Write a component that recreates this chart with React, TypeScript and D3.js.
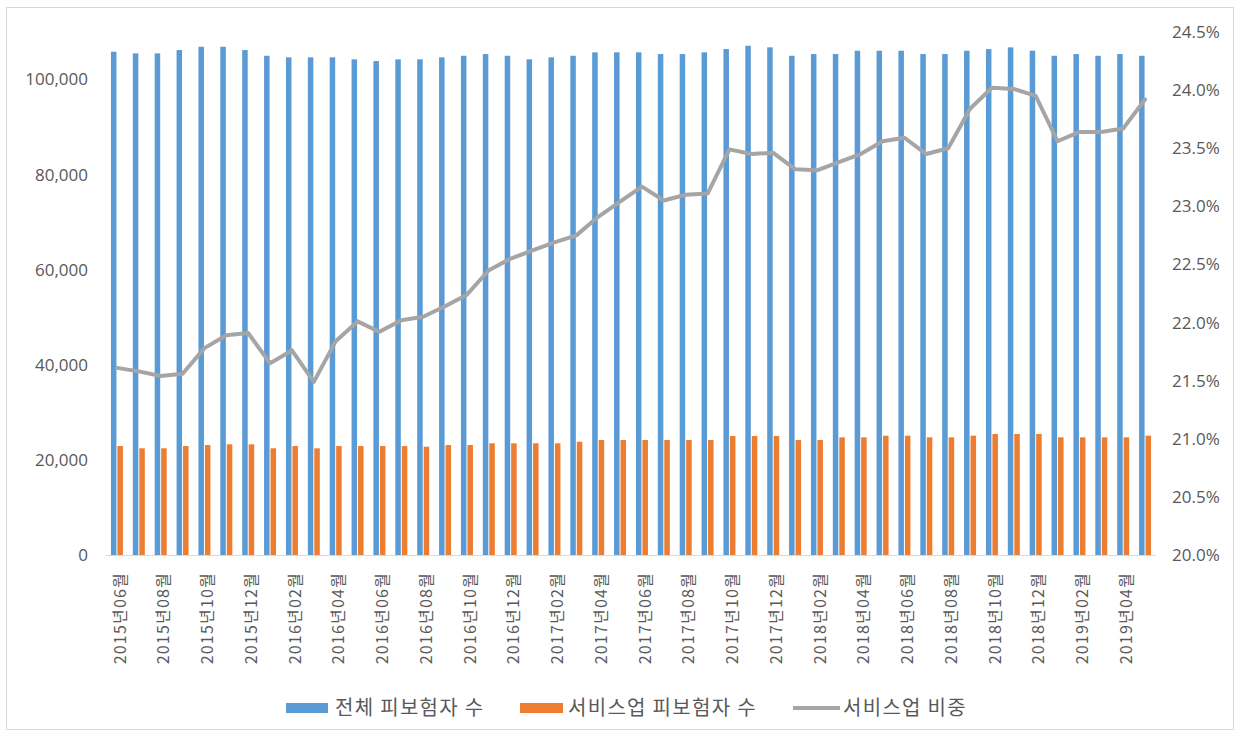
import { useEffect } from "react";
import * as d3 from "d3";

const months = [
  "2015년06월", "2015년07월", "2015년08월", "2015년09월", "2015년10월", "2015년11월", "2015년12월",
  "2016년01월", "2016년02월", "2016년03월", "2016년04월", "2016년05월", "2016년06월", "2016년07월",
  "2016년08월", "2016년09월", "2016년10월", "2016년11월", "2016년12월",
  "2017년01월", "2017년02월", "2017년03월", "2017년04월", "2017년05월", "2017년06월", "2017년07월",
  "2017년08월", "2017년09월", "2017년10월", "2017년11월", "2017년12월",
  "2018년01월", "2018년02월", "2018년03월", "2018년04월", "2018년05월", "2018년06월", "2018년07월",
  "2018년08월", "2018년09월", "2018년10월", "2018년11월", "2018년12월",
  "2019년01월", "2019년02월", "2019년03월", "2019년04월", "2019년05월",
];

// 전체 피보험자 수
const totalInsured = [
  105850, 105500, 105500, 106200, 106900, 106900, 106200, 105000, 104670, 104670,
  104670, 104250, 103890, 104250, 104250, 104670, 105000, 105360, 105000, 104250,
  104670, 105000, 105720, 105720, 105720, 105360, 105360, 105720, 106410, 107100,
  106770, 105000, 105360, 105360, 106060, 106060, 106060, 105360, 105360, 106060,
  106410, 106770, 106060, 105000, 105360, 105000, 105360, 105000,
];

// 서비스업 피보험자 수
const serviceInsured = [
  22920, 22440, 22440, 22920, 23130, 23280, 23280, 22440, 22920, 22440,
  22920, 22920, 22920, 22920, 22780, 23130, 23130, 23490, 23490, 23490,
  23490, 23830, 24180, 24180, 24180, 24180, 24180, 24180, 25030, 25030,
  25030, 24180, 24180, 24750, 24750, 25090, 25090, 24750, 24750, 25090,
  25450, 25450, 25450, 24750, 24750, 24750, 24750, 25090,
];

// 서비스업 비중
const serviceShare = [
  0.2161, 0.2158, 0.2154, 0.2156, 0.2178, 0.2189, 0.2191, 0.2165, 0.2176, 0.2149,
  0.2184, 0.2201, 0.2192, 0.2202, 0.2205, 0.2214, 0.2224, 0.2245, 0.2255, 0.2262,
  0.2269, 0.2275, 0.2291, 0.2304, 0.2317, 0.2305, 0.2310, 0.2311, 0.2349, 0.2345,
  0.2346, 0.2332, 0.2331, 0.2338, 0.2345, 0.2356, 0.2359, 0.2345, 0.2350, 0.2384,
  0.2402, 0.2401, 0.2395, 0.2356, 0.2364, 0.2364, 0.2367, 0.2392,
];

const leftTicks = [0, 20000, 40000, 60000, 80000, 100000];
const rightTicks = [0.2, 0.205, 0.21, 0.215, 0.22, 0.225, 0.23, 0.235, 0.24, 0.245];

const seriesNames = ["전체 피보험자 수", "서비스업 피보험자 수", "서비스업 비중"];

const BLUE = "#5b9bd5";
const ORANGE = "#ed7d31";
const GRAY = "#a5a5a5";
const TEXT = "#595959";

const W = 1240;
const H = 736;
const plot = { left: 106, right: 1156, top: 32, bottom: 555 };

export default function App() {
  useEffect(() => {
    document.body.style.margin = "0";
  }, []);

  const x = d3.scaleBand<string>().domain(months).range([plot.left, plot.right]).padding(0);
  const bw = x.bandwidth();
  const x1 = d3
    .scaleBand<string>()
    .domain(["total", "service"])
    .range([bw / 2 - 6, bw / 2 + 6])
    .paddingInner(0.15);

  const yLeft = d3.scaleLinear().domain([0, 110000]).range([plot.bottom, plot.top]);
  const yRight = d3.scaleLinear().domain([0.2, 0.245]).range([plot.bottom, plot.top]);

  const line = d3
    .line<number>()
    .x((_, i) => (x(months[i]) as number) + bw / 2)
    .y((d) => yRight(d));

  const fmtLeft = d3.format(",");
  const fmtRight = d3.format(".1%");

  const tickFont = "'Open Sans', 'Noto Sans CJK KR', sans-serif";
  const krFont = "'Noto Sans CJK KR', sans-serif";

  return (
    <svg width={W} height={H} style={{ display: "block", background: "#fff" }}>
      <rect x={6.5} y={7.5} width={W - 13} height={H - 14} fill="#fff" stroke="#d9d9d9" />

      {/* left axis labels */}
      {leftTicks.map((t) => (
        <text
          key={"l" + t}
          x={88}
          y={yLeft(t)}
          dy="0.35em"
          textAnchor="end"
          fontFamily={tickFont}
          fontSize={17}
          fill={TEXT}
        >
          {fmtLeft(t)}
        </text>
      ))}

      {/* right axis labels */}
      {rightTicks.map((t) => (
        <text
          key={"r" + t}
          x={1172}
          y={yRight(t)}
          dy="0.35em"
          textAnchor="start"
          fontFamily={tickFont}
          fontSize={17}
          fill={TEXT}
        >
          {fmtRight(t)}
        </text>
      ))}

      {/* bars */}
      {months.map((m, i) => (
        <g key={m} transform={`translate(${x(m)},0)`}>
          <rect
            x={x1("total")}
            y={yLeft(totalInsured[i])}
            width={x1.bandwidth()}
            height={plot.bottom - yLeft(totalInsured[i])}
            fill={BLUE}
          />
          <rect
            x={x1("service")}
            y={yLeft(serviceInsured[i])}
            width={x1.bandwidth()}
            height={plot.bottom - yLeft(serviceInsured[i])}
            fill={ORANGE}
          />
        </g>
      ))}

      {/* baseline */}
      <line x1={plot.left} x2={plot.right} y1={plot.bottom + 0.5} y2={plot.bottom + 0.5} stroke="#d9d9d9" />

      {/* share line */}
      <path
        d={line(serviceShare) || ""}
        fill="none"
        stroke={GRAY}
        strokeWidth={4}
        strokeLinejoin="round"
        strokeLinecap="round"
      />

      {/* x labels, every other month */}
      {months.map((m, i) =>
        i % 2 === 0 ? (
          <text
            key={"x" + m}
            transform={`translate(${(x(m) as number) + bw / 2 + 3},572) rotate(-90)`}
            dy="0.35em"
            textAnchor="end"
            fontFamily={krFont}
            fontSize={16}
            letterSpacing={1.2}
            fill={TEXT}
          >
            {m}
          </text>
        ) : null
      )}

      {/* legend */}
      <g fontFamily={krFont} fontSize={20} letterSpacing={1.3} fill={TEXT}>
        <rect x={286} y={703} width={42} height={10} fill={BLUE} />
        <text x={335} y={708} dy="0.35em">{seriesNames[0]}</text>
        <rect x={520} y={703} width={43} height={10} fill={ORANGE} />
        <text x={568} y={708} dy="0.35em">{seriesNames[1]}</text>
        <line x1={793} x2={840} y1={708} y2={708} stroke={GRAY} strokeWidth={4} />
        <text x={843} y={708} dy="0.35em">{seriesNames[2]}</text>
      </g>
    </svg>
  );
}
